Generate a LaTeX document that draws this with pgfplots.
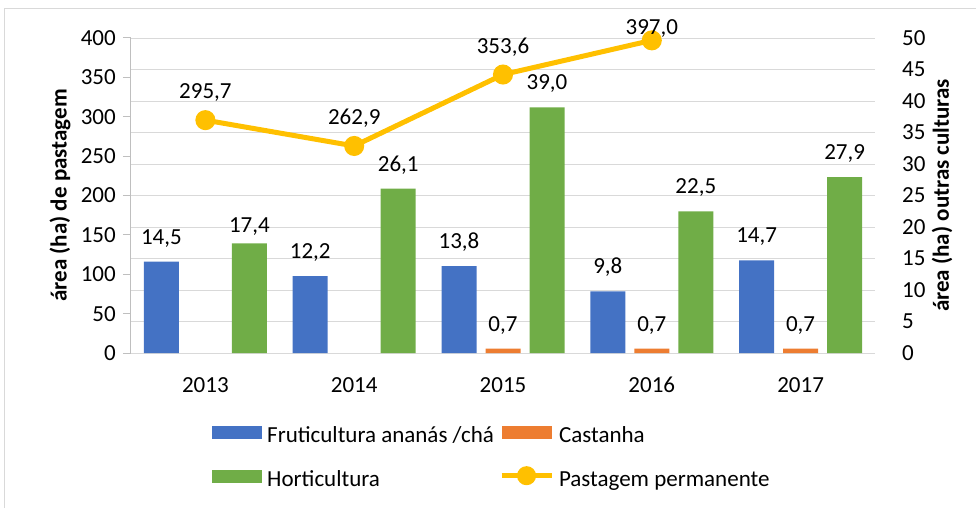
\documentclass[border=0pt]{standalone}
\usepackage{fontspec}
\setmainfont{Carlito}
\usepackage{pgfplots}
\pgfplotsset{compat=1.18}
\definecolor{cblue}{HTML}{4472C4}
\definecolor{corange}{HTML}{ED7D31}
\definecolor{cgreen}{HTML}{70AD47}
\definecolor{cgold}{HTML}{FFC000}
\definecolor{gridgray}{HTML}{D9D9D9}
\definecolor{axisgray}{HTML}{BFBFBF}

\pgfplotsset{
  twin/.style={
    scale only axis, width=744bp, height=315bp,
    xmin=-0.5, xmax=4.5,
    /pgf/number format/assume math mode=true,
    clip=false,
  },
  vallabel/.style={
    nodes near coords,
    nodes near coords style={anchor=base, inner sep=0pt, yshift=#1, text=black,
      /pgf/number format/fixed, /pgf/number format/fixed zerofill,
      /pgf/number format/precision=1, /pgf/number format/use comma},
  },
  barplot/.style={
    ybar, bar width=35bp, bar shift=#1, draw=none, vallabel=17.5bp,
    nodes near coords style={/tikz/xshift=#1},
    legend image code/.code={\fill[##1] (0bp,-2bp) rectangle (50bp,11bp);},
  },
  linelegend/.style={
    legend image code/.code={
      \draw[mark repeat=2, mark phase=2, ##1] plot coordinates {(0bp,5bp) (25bp,5bp) (50bp,5bp)};},
  },
}

\begin{document}
\begin{tikzpicture}[font=\fontsize{23bp}{27bp}\selectfont]
\useasboundingbox (-131bp,-155bp) rectangle (845bp,353bp);
\draw[gridgray, line width=1bp] (-126bp,-160bp) -- (-126bp,344bp) -- (850bp,344bp);

% bars on the right axis (0-50)
\begin{axis}[twin,
  ymin=0, ymax=50, ytick={0,5,...,50},
  axis y line*=right, axis x line*=bottom,
  y axis line style={draw=none},
  x axis line style={draw=gridgray, line width=1bp},
  ymajorgrids, major grid style={draw=gridgray, line width=1bp},
  major tick length=0pt,
  xtick={0,...,4}, xticklabels={2013,2014,2015,2016,2017},
  xticklabel style={inner sep=0pt, anchor=north, yshift=-24bp},
  yticklabel style={inner sep=0pt, anchor=west, xshift=27bp},
  ylabel={\textbf{área (ha) outras culturas}},
  every axis y label/.style={at={(axis description cs:1.0901,0.5)}, anchor=center, rotate=90},
  legend columns=2, legend cell align=left,
  legend style={at={(axis description cs:0.1089,-0.2317)}, anchor=north west,
    draw=none, fill=none, inner sep=0pt,
    nodes={inner sep=0pt, text height=16bp, text depth=5bp},
    column sep=5bp, row sep=21bp},
]
\addplot[barplot=-44bp, fill=cblue] coordinates {(0,14.5) (1,12.2) (2,13.8) (3,9.8) (4,14.7)};
\addlegendentry{Fruticultura ananás /chá}
\addplot[barplot=0bp, fill=corange]
  coordinates {(2,0.7) (3,0.7) (4,0.7)};
\addlegendentry{Castanha}
\addplot[barplot=44bp, fill=cgreen, coordinate style/.condition={x<0.5}{yshift=-7bp}]
  coordinates {(0,17.4) (1,26.1) (2,39.0) (3,22.5) (4,27.9)};
\addlegendentry{Horticultura}
\addlegendimage{linelegend, cgold, line width=5bp, mark=*, mark size=7bp, mark options={fill=cgold, draw=none}}
\addlegendentry{Pastagem permanente}
\end{axis}

% line on the left axis (0-400)
\begin{axis}[twin,
  ymin=0, ymax=400, ytick={0,50,...,400},
  axis y line*=left, axis x line=none,
  y axis line style={draw=axisgray, line width=1bp},
  ytick style={draw=axisgray, line width=1bp},
  tick align=outside, major tick length=8bp,
  yticklabel style={inner sep=0pt, anchor=east, xshift=-7bp},
  ylabel={\textbf{área (ha) de pastagem}},
  every axis y label/.style={at={(axis description cs:-0.0954,0.5)}, anchor=center, rotate=90},
]
\addplot[cgold, line width=5bp, mark=*, mark size=7.5bp, mark options={fill=cgold, draw=none},
  vallabel=21.5bp, coordinate style/.condition={y>390}{yshift=-16bp}]
  coordinates {(0,295.7) (1,262.9) (2,353.6) (3,397.0)};
\end{axis}
\end{tikzpicture}
\end{document}
